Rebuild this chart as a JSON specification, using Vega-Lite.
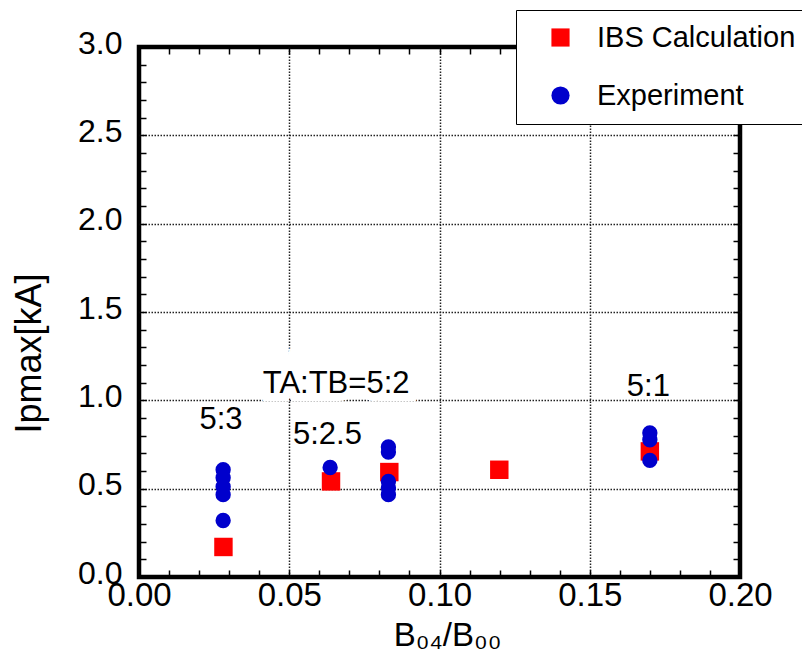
{
  "$schema": "https://vega.github.io/schema/vega-lite/v6.json",
  "width": 601,
  "height": 530,
  "autosize": {"type": "none"},
  "padding": {"left": 139, "top": 47, "right": 62, "bottom": 77},
  "background": "white",
  "config": {
    "view": {"stroke": "black", "strokeWidth": 4.5},
    "font": "Liberation Sans"
  },
  "datasets": {
    "calc": [
      {"series": "IBS Calculation", "x": 0.0281, "y": 0.17},
      {"series": "IBS Calculation", "x": 0.0639, "y": 0.541},
      {"series": "IBS Calculation", "x": 0.0833, "y": 0.594},
      {"series": "IBS Calculation", "x": 0.1199, "y": 0.607},
      {"series": "IBS Calculation", "x": 0.17, "y": 0.711}
    ],
    "exp": [
      {"series": "Experiment", "x": 0.028, "y": 0.607},
      {"series": "Experiment", "x": 0.028, "y": 0.562},
      {"series": "Experiment", "x": 0.028, "y": 0.511},
      {"series": "Experiment", "x": 0.028, "y": 0.466},
      {"series": "Experiment", "x": 0.028, "y": 0.32},
      {"series": "Experiment", "x": 0.0636, "y": 0.62},
      {"series": "Experiment", "x": 0.083, "y": 0.736},
      {"series": "Experiment", "x": 0.083, "y": 0.707},
      {"series": "Experiment", "x": 0.083, "y": 0.541},
      {"series": "Experiment", "x": 0.083, "y": 0.504},
      {"series": "Experiment", "x": 0.083, "y": 0.466},
      {"series": "Experiment", "x": 0.17, "y": 0.815},
      {"series": "Experiment", "x": 0.17, "y": 0.777},
      {"series": "Experiment", "x": 0.17, "y": 0.66}
    ],
    "notes": [
      {"label": "5:3", "x": 0.0273, "y": 0.89},
      {"label": "TA:TB=5:2", "x": 0.0656, "y": 1.095},
      {"label": "5:2.5", "x": 0.0627, "y": 0.805},
      {"label": "5:1", "x": 0.1695, "y": 1.077}
    ]
  },
  "resolve": {"axis": {"x": "independent", "y": "independent"}},
  "layer": [
    {
      "data": {"name": "calc"},
      "mark": {"type": "point", "filled": true, "opacity": 1, "size": 340, "strokeWidth": 0},
      "encoding": {
        "x": {
          "field": "x", "type": "quantitative",
          "scale": {"domain": [0, 0.2], "nice": false, "zero": false},
          "axis": {
            "orient": "bottom",
            "values": [0, 0.01, 0.02, 0.03, 0.04, 0.05, 0.06, 0.07, 0.08, 0.09, 0.1, 0.11, 0.12, 0.13, 0.14, 0.15, 0.16, 0.17, 0.18, 0.19, 0.2],
            "domain": false,
            "tickSize": -7, "tickWidth": 1.5, "tickColor": "black",
            "grid": true,
            "gridColor": "#222", "gridWidth": 1.5, "gridDash": [1.5, 1.5],
            "gridOpacity": {"condition": {"test": "round(datum.value*100) % 5 === 0 && datum.value > 0.001 && datum.value < 0.199", "value": 1}, "value": 0},
            "labelExpr": "round(datum.value*100) % 5 === 0 ? format(datum.value, '.2f') : ''",
            "labelFontSize": 33, "labelColor": "black", "labelPadding": 9,
            "labelOverlap": false, "labelFlush": false, "labelBound": false,
            "title": "B₀₄/B₀₀", "titleFontSize": 33, "titleFontWeight": "normal", "titleColor": "black",
            "titleX": 308, "titleY": 58, "titleBaseline": "middle", "titleAlign": "center"
          }
        },
        "y": {
          "field": "y", "type": "quantitative",
          "scale": {"domain": [0, 3], "nice": false},
          "axis": {
            "orient": "left",
            "values": [0, 0.1, 0.2, 0.3, 0.4, 0.5, 0.6, 0.7, 0.8, 0.9, 1, 1.1, 1.2, 1.3, 1.4, 1.5, 1.6, 1.7, 1.8, 1.9, 2, 2.1, 2.2, 2.3, 2.4, 2.5, 2.6, 2.7, 2.8, 2.9, 3],
            "domain": false,
            "tickSize": -7, "tickWidth": 1.5, "tickColor": "black",
            "grid": true,
            "gridColor": "#222", "gridWidth": 1.5, "gridDash": [1.5, 1.5],
            "gridOpacity": {"condition": {"test": "round(datum.value*10) % 5 === 0 && datum.value > 0.01 && datum.value < 2.99", "value": 1}, "value": 0},
            "labelExpr": "round(datum.value*10) % 5 === 0 ? format(datum.value, '.1f') : ''",
            "labelFontSize": 32, "labelColor": "black", "labelPadding": 24, "labelOffset": -4,
            "labelOverlap": false, "labelFlush": false, "labelBound": false,
            "title": "Ipmax[kA]", "titleFontSize": 36, "titleFontWeight": "normal", "titleColor": "black",
            "titleX": -110, "titleY": 306, "titleAngle": 270, "titleBaseline": "middle", "titleAlign": "center"
          }
        },
        "color": {
          "field": "series", "type": "nominal",
          "scale": {"domain": ["IBS Calculation", "Experiment"], "range": ["#ff0000", "#0000cc"]},
          "legend": {
            "orient": "none", "legendX": 377, "legendY": -37,
            "title": null,
            "labelFontSize": 29, "labelFont": "Liberation Sans", "labelLimit": 400,
            "symbolSize": 330, "symbolStrokeWidth": 0,
            "padding": 13, "symbolOffset": 17, "labelOffset": 22, "rowPadding": 28,
            "fillColor": "white", "strokeColor": "black",
            "encode": {
              "labels": {"update": {"fill": {"signal": "datum.value === 'Experiment' ? '#0000cc' : '#ff0000'"}}},
              "legend": {"update": {"strokeWidth": {"value": 2.5}}}
            }
          }
        },
        "shape": {
          "field": "series", "type": "nominal",
          "scale": {"domain": ["IBS Calculation", "Experiment"], "range": ["square", "circle"]}
        }
      }
    },
    {
      "data": {"name": "exp"},
      "mark": {"type": "point", "filled": true, "opacity": 1, "size": 235, "strokeWidth": 0},
      "encoding": {
        "x": {
          "field": "x", "type": "quantitative",
          "axis": {
            "orient": "top", "offset": -7,
            "values": [0, 0.01, 0.02, 0.03, 0.04, 0.05, 0.06, 0.07, 0.08, 0.09, 0.1, 0.11, 0.12, 0.13, 0.14, 0.15, 0.16, 0.17, 0.18, 0.19, 0.2],
            "domain": false, "grid": false, "labels": false, "title": null,
            "tickSize": 7, "tickWidth": 1.5, "tickColor": "black"
          }
        },
        "y": {
          "field": "y", "type": "quantitative",
          "axis": {
            "orient": "right", "offset": -7,
            "values": [0, 0.1, 0.2, 0.3, 0.4, 0.5, 0.6, 0.7, 0.8, 0.9, 1, 1.1, 1.2, 1.3, 1.4, 1.5, 1.6, 1.7, 1.8, 1.9, 2, 2.1, 2.2, 2.3, 2.4, 2.5, 2.6, 2.7, 2.8, 2.9, 3],
            "domain": false, "grid": false, "labels": false, "title": null,
            "tickSize": 7, "tickWidth": 1.5, "tickColor": "black"
          }
        },
        "color": {"field": "series", "type": "nominal"},
        "shape": {"field": "series", "type": "nominal"}
      }
    },
    {
      "data": {"name": "notes"},
      "transform": [{"filter": "datum.label === 'TA:TB=5:2'"}],
      "mark": {"type": "text", "fontSize": 31, "font": "Liberation Sans", "color": "white", "stroke": "white", "strokeWidth": 16, "align": "center", "baseline": "middle"},
      "encoding": {
        "x": {"field": "x", "type": "quantitative", "axis": null},
        "y": {"field": "y", "type": "quantitative", "axis": null},
        "text": {"field": "label"}
      }
    },
    {
      "data": {"name": "notes"},
      "mark": {"type": "text", "fontSize": 31, "font": "Liberation Sans", "color": "black", "align": "center", "baseline": "middle"},
      "encoding": {
        "x": {"field": "x", "type": "quantitative", "axis": null},
        "y": {"field": "y", "type": "quantitative", "axis": null},
        "text": {"field": "label"}
      }
    }
  ]
}
